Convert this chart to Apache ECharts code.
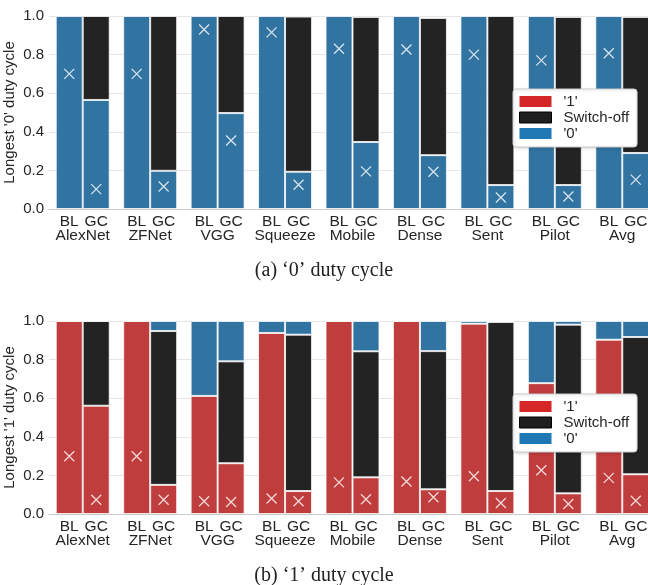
<!DOCTYPE html>
<html>
<head>
<meta charset="utf-8">
<script src="https://cdn.jsdelivr.net/npm/echarts@6/dist/echarts.min.js"></script>
<style>html,body{margin:0;padding:0;background:#fff;}#c{width:648px;height:585px;}</style>
</head>
<body>
<div id="c"></div>
<script>
var categories = ['AlexNet','ZFNet','VGG','Squeeze','Mobile','Dense','Sent','Pilot','Avg'];
var barLabels = ['BL','GC'];
var yTicks = [0, 0.2, 0.4, 0.6, 0.8, 1.0];

// (a) '0' duty cycle
var zeroBL_0   = [1,1,1,1,1,1,1,1,1];
var zeroGC_0   = [0.565,0.198,0.497,0.193,0.347,0.279,0.124,0.124,0.290];
var zeroGC_off = [0.435,0.802,0.503,0.804,0.648,0.711,0.876,0.871,0.705];
var zeroMarkBL = [0.70,0.70,0.93,0.915,0.83,0.826,0.80,0.77,0.807];
var zeroMarkGC = [0.103,0.117,0.355,0.126,0.195,0.193,0.06,0.065,0.152];

// (b) '1' duty cycle
var oneBL_1   = [1,1,0.612,0.938,1,1,0.986,0.678,0.903];
var oneBL_0   = [0,0,0.388,0.062,0,0,0.014,0.322,0.097];
var oneGC_1   = [0.561,0.151,0.263,0.119,0.19,0.128,0.119,0.107,0.206];
var oneGC_off = [0.439,0.797,0.528,0.81,0.653,0.716,0.876,0.874,0.711];
var oneGC_0   = [0,0.052,0.209,0.071,0.157,0.156,0.005,0.019,0.083];
var oneMarkBL = [0.299,0.299,0.066,0.08,0.164,0.168,0.196,0.227,0.187];
var oneMarkGC = [0.074,0.074,0.062,0.066,0.076,0.087,0.057,0.052,0.069];

var C_RED = '#c03d3e', C_BLK = '#232323', C_BLU = '#3274a1';
var L_RED = '#d62728', L_BLK = '#1f1f1f', L_BLU = '#1f77b4';
var FONT = '"Liberation Sans", Arial, sans-serif';
var FS = 15.5;

var chart = echarts.init(document.getElementById('c'), null, {renderer:'canvas'});

function xAxes(gi) {
  return [{
    type:'category', gridIndex:gi, data:categories,
    axisLine:{show:true, lineStyle:{color:'#cccccc', width:1.2}},
    axisTick:{show:false},
    axisLabel:{
      interval:0, margin:5, color:'#262626', fontFamily:FONT, fontSize:FS, lineHeight:14.5,
      formatter:function(v){ return '{b|' + barLabels[0] + '}{g|' + barLabels[1] + '}\n{n|' + v + '}'; },
      rich:{
        b:{width:27, align:'center', fontFamily:FONT, fontSize:FS, color:'#262626', lineHeight:14.5},
        g:{width:27, align:'center', fontFamily:FONT, fontSize:FS, color:'#262626', lineHeight:14.5},
        n:{fontFamily:FONT, fontSize:FS, color:'#262626', lineHeight:14.5}
      }
    },
    splitLine:{show:false}
  },{
    type:'value', gridIndex:gi, min:-0.5, max:8.5, show:false
  }];
}
function yAxis(gi, name) {
  return {
    type:'value', gridIndex:gi, min:0, max:1, interval:0.2,
    name:name, nameLocation:'middle', nameGap:32, nameMoveOverlap:false,
    nameTextStyle:{fontFamily:FONT, fontSize:15, color:'#262626'},
    axisLine:{show:true, lineStyle:{color:'#cccccc', width:1.2}},
    axisTick:{show:false},
    axisLabel:{fontFamily:FONT, fontSize:15, color:'#262626', margin:5,
      formatter:function(v){ return v.toFixed(1); }},
    splitLine:{show:true, lineStyle:{color:'#e6e6e6', width:1}}
  };
}
function bar(name, data, color, stack, xi, yi) {
  return {
    type:'bar', name:name, data:data, stack:stack, xAxisIndex:xi, yAxisIndex:yi,
    barGap:'0%', barCategoryGap:'20%',
    itemStyle:{color:color, borderColor:'rgba(255,255,255,0.75)', borderWidth:1},
    emphasis:{disabled:true}, animation:false
  };
}
var XPATH = 'path://M0,0L10,10M10,0L0,10';
function marks(arrBL, arrGC, xi, yi) {
  var d = [];
  for (var i = 0; i < categories.length; i++) {
    d.push([i - 0.2, arrBL[i]]);
    d.push([i + 0.2, arrGC[i]]);
  }
  return {
    type:'scatter', name:'marks', data:d, xAxisIndex:xi, yAxisIndex:yi,
    symbol:XPATH, symbolSize:10, z:10,
    itemStyle:{color:'rgba(0,0,0,0)', borderColor:'#ffffff', borderWidth:1.3},
    emphasis:{disabled:true}, animation:false
  };
}
function legendAt(top) {
  return {
    orient:'vertical', left:513, top:top, itemWidth:32, itemHeight:11, itemGap:1,
    padding:[5,8,6,6],
    backgroundColor:'#ffffff', borderColor:'#cccccc', borderWidth:1, borderRadius:3,
    shadowColor:'rgba(0,0,0,0.15)', shadowBlur:3, shadowOffsetX:1, shadowOffsetY:1,
    textStyle:{fontFamily:FONT, fontSize:15, color:'#262626', padding:[0,0,0,7]},
    selectedMode:false,
    data:[
      {name:"'1'", icon:'rect', itemStyle:{color:L_RED, borderColor:L_RED, borderWidth:0}},
      {name:'Switch-off', icon:'rect', itemStyle:{color:L_BLK, borderColor:'#000', borderWidth:1}},
      {name:"'0'", icon:'rect', itemStyle:{color:L_BLU, borderColor:L_BLU, borderWidth:0}}
    ]
  };
}
var SERIF = '"Liberation Serif", "Times New Roman", serif';
var option = {
  backgroundColor:'#ffffff',
  animation:false,
  title:[
    {text:'(a) \u20180\u2019 duty cycle', left:'center', top:256,
     textStyle:{fontFamily:SERIF, fontSize:20, fontWeight:'normal', color:'#222'}},
    {text:'(b) \u20181\u2019 duty cycle', left:'center', top:561,
     textStyle:{fontFamily:SERIF, fontSize:20, fontWeight:'normal', color:'#222'}}
  ],
  grid:[
    {left:49, top:16, width:607, height:193, containLabel:false, outerBoundsMode:'none'},
    {left:49, top:321, width:607, height:193, containLabel:false, outerBoundsMode:'none'}
  ],
  legend:[legendAt(89), legendAt(394)],
  xAxis:xAxes(0).concat(xAxes(1)),
  yAxis:[yAxis(0, "Longest '0' duty cycle"), yAxis(1, "Longest '1' duty cycle")],
  series:[
    bar("'0'", zeroBL_0, C_BLU, 'tBL', 0, 0),
    bar("'0'", zeroGC_0, C_BLU, 'tGC', 0, 0),
    bar('Switch-off', zeroGC_off, C_BLK, 'tGC', 0, 0),
    marks(zeroMarkBL, zeroMarkGC, 1, 0),
    bar("'1'", oneBL_1, C_RED, 'bBL', 2, 1),
    bar("'0'", oneBL_0, C_BLU, 'bBL', 2, 1),
    bar("'1'", oneGC_1, C_RED, 'bGC', 2, 1),
    bar('Switch-off', oneGC_off, C_BLK, 'bGC', 2, 1),
    bar("'0'", oneGC_0, C_BLU, 'bGC', 2, 1),
    marks(oneMarkBL, oneMarkGC, 3, 1)
  ]
};
chart.setOption(option);
</script>
</body>
</html>
